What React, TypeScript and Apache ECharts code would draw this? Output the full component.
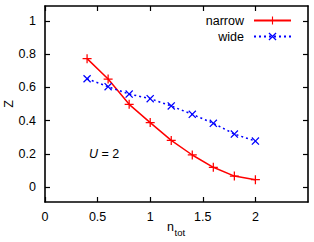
import React, { useEffect, useRef } from "react";
import * as echarts from "echarts";

const nTot = [0.4, 0.6, 0.8, 1.0, 1.2, 1.4, 1.6, 1.8, 2.0];
const narrowZ = [0.773, 0.65, 0.498, 0.388, 0.281, 0.193, 0.119, 0.066, 0.044];
const wideZ = [0.652, 0.604, 0.56, 0.532, 0.488, 0.438, 0.384, 0.319, 0.277];
const xTicks = [0, 0.5, 1, 1.5, 2];
const yTicks = [0, 0.2, 0.4, 0.6, 0.8, 1];

const PLUS = "path://M4.3,0H5.7V4.3H10V5.7H5.7V10H4.3V5.7H0V4.3H4.3Z";
const CROSS =
  "path://M1.1,0L5,3.9L8.9,0L10,1.1L6.1,5L10,8.9L8.9,10L5,6.1L1.1,10L0,8.9L3.9,5L0,1.1Z";

const FONT = "Liberation Sans, Arial, Helvetica, sans-serif";

export default function App() {
  const ref = useRef<HTMLDivElement>(null);
  useEffect(() => {
    if (!ref.current) return;
    const chart = echarts.init(ref.current, null, { renderer: "svg" });
    const axisCommon = {
      type: "value" as const,
      axisLine: { show: true, onZero: false, lineStyle: { color: "#000", width: 1.6 } },
      splitLine: { show: false },
    };
    chart.setOption({
      animation: false,
      backgroundColor: "#fff",
      textStyle: { fontFamily: FONT },
      grid: { left: 45, right: 6, top: 6, bottom: 40 },
      xAxis: [
        {
          ...axisCommon,
          min: 0,
          max: 2.5,
          interval: 0.5,
          position: "bottom",
          axisTick: { show: true, inside: true, length: 5, customValues: xTicks, lineStyle: { color: "#000", width: 1.2 } },
          axisLabel: { show: true, customValues: xTicks, color: "#000", fontSize: 12.5, margin: 8, fontFamily: FONT },
        },
        {
          ...axisCommon,
          min: 0,
          max: 2.5,
          interval: 0.5,
          position: "top",
          axisTick: { show: true, inside: true, length: 5, customValues: xTicks, lineStyle: { color: "#000", width: 1.2 } },
          axisLabel: { show: false },
        },
      ],
      yAxis: [
        {
          ...axisCommon,
          min: -0.09,
          max: 1.09,
          position: "left",
          axisTick: { show: true, inside: true, length: 5, customValues: yTicks, lineStyle: { color: "#000", width: 1.2 } },
          axisLabel: { show: true, customValues: yTicks, color: "#000", fontSize: 12.5, margin: 9, fontFamily: FONT },
        },
        {
          ...axisCommon,
          min: -0.09,
          max: 1.09,
          position: "right",
          axisTick: { show: true, inside: true, length: 5, customValues: yTicks, lineStyle: { color: "#000", width: 1.2 } },
          axisLabel: { show: false },
        },
      ],
      legend: {
        orient: "vertical",
        right: 17,
        top: 9,
        align: "right",
        itemWidth: 37,
        itemHeight: 10,
        itemGap: 3,
        textStyle: { fontSize: 12.5, color: "#000", fontFamily: FONT, padding: [0, 5, 0, 0] },
        data: ["narrow", "wide"],
      },
      series: [
        {
          name: "narrow",
          type: "line",
          data: nTot.map((x, i) => [x, narrowZ[i]]),
          symbol: PLUS,
          symbolSize: 9,
          showAllSymbol: true,
          lineStyle: { color: "#ff0000", width: 1.5 },
          itemStyle: { color: "#ff0000" },
        },
        {
          name: "wide",
          type: "line",
          data: nTot.map((x, i) => [x, wideZ[i]]),
          symbol: CROSS,
          symbolSize: 8,
          showAllSymbol: true,
          lineStyle: { color: "#0000ff", width: 1.5, type: [2, 3] },
          itemStyle: { color: "#0000ff" },
        },
      ],
      graphic: [
        {
          type: "text",
          x: 89,
          y: 154,
          style: {
            text: "{i|U} = 2",
            fontSize: 12.5,
            fontFamily: FONT,
            fill: "#000",
            verticalAlign: "middle",
            rich: { i: { fontStyle: "italic", fontSize: 12.5, fontFamily: FONT } },
          },
        },
        {
          type: "text",
          x: 9,
          y: 104,
          rotation: Math.PI / 2,
          style: {
            text: "Z",
            fontSize: 12.5,
            fontFamily: FONT,
            fill: "#000",
            align: "center",
            verticalAlign: "middle",
          },
        },
        {
          type: "text",
          x: 167,
          y: 233,
          style: { text: "n", fontSize: 12.5, fontFamily: FONT, fill: "#000", verticalAlign: "bottom" },
        },
        {
          type: "text",
          x: 174.5,
          y: 237,
          style: { text: "tot", fontSize: 9.5, fontFamily: FONT, fill: "#000", verticalAlign: "bottom" },
        },
      ],
    });
    return () => chart.dispose();
  }, []);
  return <div ref={ref} style={{ width: 314, height: 242, position: "absolute", left: 0, top: 0 }} />;
}
